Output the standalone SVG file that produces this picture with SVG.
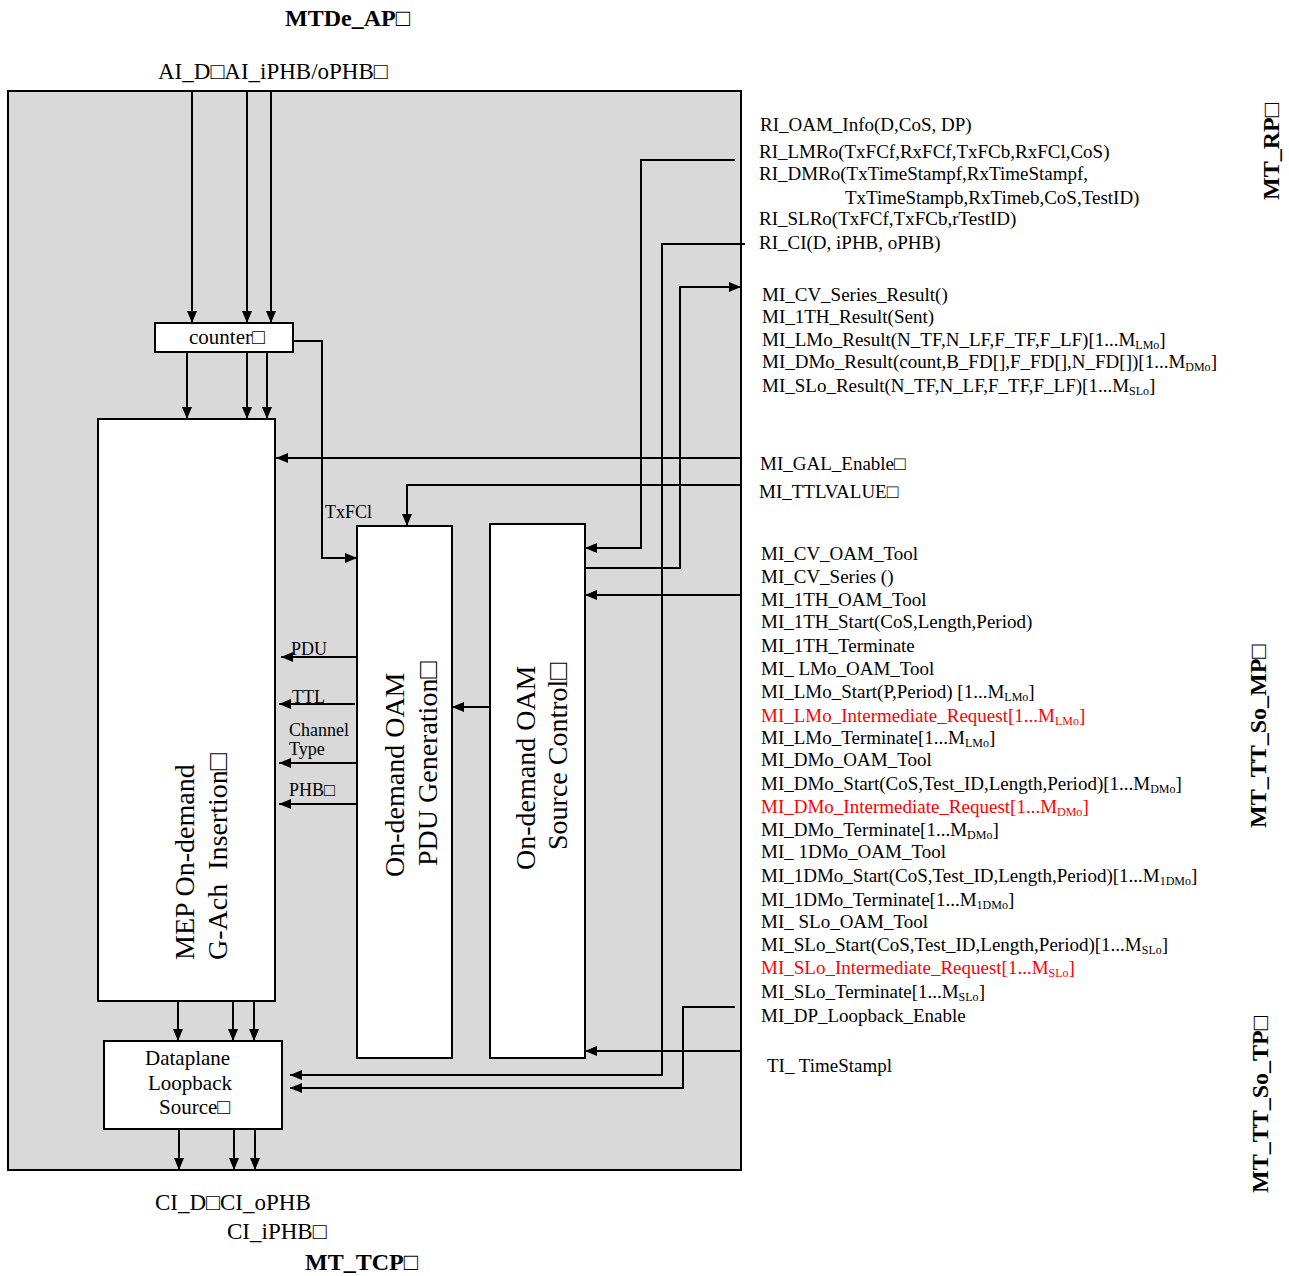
<svg xmlns="http://www.w3.org/2000/svg" width="1289" height="1276" viewBox="0 0 1289 1276">
<defs>
<marker id="ah" viewBox="0 0 12 10" refX="12" refY="5" markerWidth="12" markerHeight="10" markerUnits="userSpaceOnUse" orient="auto"><path d="M0,0 L12,5 L0,10 z" fill="#000"/></marker>
<style>
text{font-family:"Liberation Serif","Times New Roman",serif;fill:#000}
.t18{font-size:18px}
.t19{font-size:19px}
.t21{font-size:21px}
.t23{font-size:23px}
.t28{font-size:28px}
.b{font-weight:bold;font-size:24px}
.red{fill:#ff0000}
.box{fill:#fff;stroke:#000;stroke-width:2}
.c{fill:none;stroke:#000;stroke-width:2;marker-end:url(#ah)}
.s{font-size:12px}
</style>
</defs>
<rect width="1289" height="1276" fill="#fff"/>
<g id="frame"><rect x="8" y="91" width="733" height="1079" fill="#d9d9d9" stroke="#000" stroke-width="2"/></g>

<g id="labels-top">
<text class="b" x="285" y="26">MTDe_AP□</text>
<text class="t23" x="158" y="79">AI_D□AI_iPHB/oPHB□</text>
</g>

<g id="counter"><rect class="box" x="155" y="323" width="138" height="29"/><text class="t21" x="189" y="344">counter□</text></g>

<g id="mep"><rect class="box" x="98" y="419" width="177" height="582"/>
<text class="t28" transform="translate(194,960) rotate(-90)">MEP On-demand</text>
<text class="t28" transform="translate(227,960) rotate(-90)" xml:space="preserve">G-Ach  Insertion□</text></g>

<g id="pdugen"><rect class="box" x="357" y="526" width="95" height="532"/>
<text class="t28" transform="translate(404,877) rotate(-90)">On-demand OAM</text>
<text class="t28" transform="translate(437,866) rotate(-90)">PDU Generation□</text></g>

<g id="srcctrl"><rect class="box" x="490" y="524" width="95" height="534"/>
<text class="t28" transform="translate(535,870) rotate(-90)">On-demand OAM</text>
<text class="t28" transform="translate(567,850) rotate(-90)">Source Control□</text></g>

<g id="dataplane"><rect class="box" x="104" y="1041" width="178" height="88"/>
<text class="t21" x="145" y="1065">Dataplane</text>
<text class="t21" x="148" y="1090">Loopback</text>
<text class="t21" x="159" y="1114">Source□</text></g>

<g id="connectors">
<path class="c" d="M192,92 V323"/>
<path class="c" d="M247,92 V323"/>
<path class="c" d="M271,92 V323"/>
<path class="c" d="M187,353 V419"/>
<path class="c" d="M247,353 V419"/>
<path class="c" d="M267,353 V419"/>
<path class="c" d="M293,341 H322 V558 H357"/>
<path class="c" d="M741,458 H276"/>
<path class="c" d="M741,485 H407 V526"/>
<path class="c" d="M735,160 H641 V548 H585"/>
<path class="c" d="M745,244 H662 V1075 H290"/>
<path class="c" d="M585,568 H680 V287 H741"/>
<path class="c" d="M741,595 H585"/>
<path class="c" d="M735,1007 H683 V1088 H290"/>
<path class="c" d="M741,1051 H585"/>
<path class="c" d="M490,707 H452"/>
<path class="c" d="M357,657 H281"/>
<path class="c" d="M355,704 H279"/>
<path class="c" d="M357,763 H279"/>
<path class="c" d="M357,804 H279"/>
<path class="c" d="M178,1002 V1041"/>
<path class="c" d="M233,1002 V1041"/>
<path class="c" d="M254,1002 V1041"/>
<path class="c" d="M179,1130 V1170"/>
<path class="c" d="M234,1130 V1170"/>
<path class="c" d="M255,1130 V1170"/>
</g>

<g id="inner-labels" class="t18">
<text x="325" y="518">TxFCl</text>
<text x="291" y="655">PDU</text>
<text x="292" y="703">TTL</text>
<text x="289" y="736">Channel</text>
<text x="289" y="755">Type</text>
<text x="289" y="796">PHB□</text>
</g>

<g id="ri-labels" class="t19">
<text x="760" y="131">RI_OAM_Info(D,CoS, DP)</text>
<text x="759" y="158">RI_LMRo(TxFCf,RxFCf,TxFCb,RxFCl,CoS)</text>
<text x="759" y="180">RI_DMRo(TxTimeStampf,RxTimeStampf,</text>
<text x="845" y="204">TxTimeStampb,RxTimeb,CoS,TestID)</text>
<text x="759" y="225">RI_SLRo(TxFCf,TxFCb,rTestID)</text>
<text x="759" y="249">RI_CI(D, iPHB, oPHB)</text>
</g>

<g id="mi-results" class="t19">
<text x="762" y="301">MI_CV_Series_Result()</text>
<text x="762" y="323">MI_1TH_Result(Sent)</text>
<text x="762" y="346">MI_LMo_Result(N_TF,N_LF,F_TF,F_LF)[1...M<tspan class="s" dy="3">LMo</tspan><tspan dy="-3">]</tspan></text>
<text x="762" y="368">MI_DMo_Result(count,B_FD[],F_FD[],N_FD[])[1...M<tspan class="s" dy="3">DMo</tspan><tspan dy="-3">]</tspan></text>
<text x="762" y="392">MI_SLo_Result(N_TF,N_LF,F_TF,F_LF)[1...M<tspan class="s" dy="3">SLo</tspan><tspan dy="-3">]</tspan></text>
<text x="760" y="470">MI_GAL_Enable□</text>
<text x="759" y="498">MI_TTLVALUE□</text>
</g>

<g id="mi-controls" class="t19">
<text x="761" y="560">MI_CV_OAM_Tool</text>
<text x="761" y="583">MI_CV_Series ()</text>
<text x="761" y="606">MI_1TH_OAM_Tool</text>
<text x="761" y="628">MI_1TH_Start(CoS,Length,Period)</text>
<text x="761" y="652">MI_1TH_Terminate</text>
<text x="761" y="675" xml:space="preserve">MI_ LMo_OAM_Tool</text>
<text x="761" y="698">MI_LMo_Start(P,Period) [1...M<tspan class="s" dy="3">LMo</tspan><tspan dy="-3">]</tspan></text>
<text class="red" x="761" y="722">MI_LMo_Intermediate_Request[1...M<tspan class="s" dy="3">LMo</tspan><tspan dy="-3">]</tspan></text>
<text x="761" y="744">MI_LMo_Terminate[1...M<tspan class="s" dy="3">LMo</tspan><tspan dy="-3">]</tspan></text>
<text x="761" y="766">MI_DMo_OAM_Tool</text>
<text x="761" y="790">MI_DMo_Start(CoS,Test_ID,Length,Period)[1...M<tspan class="s" dy="3">DMo</tspan><tspan dy="-3">]</tspan></text>
<text class="red" x="761" y="813">MI_DMo_Intermediate_Request[1...M<tspan class="s" dy="3">DMo</tspan><tspan dy="-3">]</tspan></text>
<text x="761" y="836">MI_DMo_Terminate[1...M<tspan class="s" dy="3">DMo</tspan><tspan dy="-3">]</tspan></text>
<text x="761" y="858" xml:space="preserve">MI_ 1DMo_OAM_Tool</text>
<text x="761" y="882">MI_1DMo_Start(CoS,Test_ID,Length,Period)[1...M<tspan class="s" dy="3">1DMo</tspan><tspan dy="-3">]</tspan></text>
<text x="761" y="906">MI_1DMo_Terminate[1...M<tspan class="s" dy="3">1DMo</tspan><tspan dy="-3">]</tspan></text>
<text x="761" y="928" xml:space="preserve">MI_ SLo_OAM_Tool</text>
<text x="761" y="951">MI_SLo_Start(CoS,Test_ID,Length,Period)[1...M<tspan class="s" dy="3">SLo</tspan><tspan dy="-3">]</tspan></text>
<text class="red" x="761" y="974">MI_SLo_Intermediate_Request[1...M<tspan class="s" dy="3">SLo</tspan><tspan dy="-3">]</tspan></text>
<text x="761" y="998">MI_SLo_Terminate[1...M<tspan class="s" dy="3">SLo</tspan><tspan dy="-3">]</tspan></text>
<text x="761" y="1022">MI_DP_Loopback_Enable</text>
<text x="767" y="1072" xml:space="preserve">TI_ TimeStampl</text>
</g>

<g id="side-labels">
<text class="b" transform="translate(1279,200) rotate(-90)">MT_RP□</text>
<text class="b" transform="translate(1266,828) rotate(-90)">MT_TT_So_MP□</text>
<text class="b" transform="translate(1268,1193) rotate(-90)">MT_TT_So_TP□</text>
</g>

<g id="labels-bottom">
<text class="t23" x="155" y="1210">CI_D□CI_oPHB</text>
<text class="t23" x="227" y="1239">CI_iPHB□</text>
<text class="b" x="305" y="1270">MT_TCP□</text>
</g>
</svg>
